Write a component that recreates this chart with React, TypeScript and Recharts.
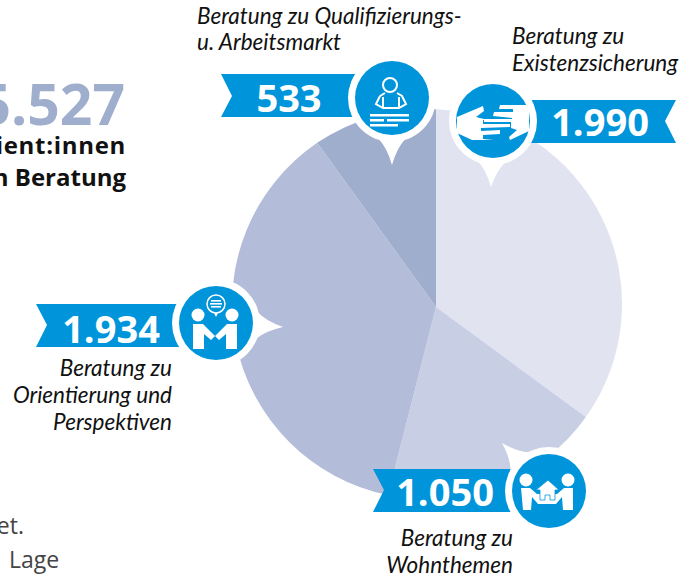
import React from 'react'
import { PieChart, Pie, Cell } from 'recharts'

const categories = ['Existenzsicherung', 'Wohnthemen', 'Orientierung und Perspektiven', 'Qualifizierungs- u. Arbeitsmarkt']
// printed numbers on the ribbons
const printedValues = ['1.990', '1.050', '1.934', '533']
// The wedges in the picture are not quite proportional to the printed numbers,
// so these are the sweeps (degrees) read off the picture itself
const wedgeSweeps = [126.3, 68, 129.8, 35.9]
const wedgeColors = ['#e1e3f1', '#c8cee4', '#b3bdda', '#a0aece']

const BLUE = '#0095db'
const FONT = '"Open Sans", "Noto Sans", sans-serif'
const LABEL_FONT = 'Lato, "Noto Sans", sans-serif'

const rows = categories.map((name, i) => ({ name, sweep: wedgeSweeps[i] }))

// the outline circle is centred a little off the point where the wedges meet
const RIM_DX = -9
const RIM_DY = -3

function rimPoint(cx: number, cy: number, r: number, angle: number) {
  const rad = (-angle * Math.PI) / 180
  const ux = Math.cos(rad)
  const uy = Math.sin(rad)
  // ray from the apex to the off-centre circle
  const b = -RIM_DX * ux - RIM_DY * uy
  const c = RIM_DX * RIM_DX + RIM_DY * RIM_DY - r * r
  const t = -b + Math.sqrt(b * b - c)
  return [cx + t * ux, cy + t * uy]
}

function OffsetWedge(props: any) {
  const { cx, cy, outerRadius, startAngle, endAngle, fill } = props
  const a = rimPoint(cx, cy, outerRadius, startAngle)
  const b = rimPoint(cx, cy, outerRadius, endAngle)
  const large = Math.abs(startAngle - endAngle) > 180 ? 1 : 0
  return (
    <path
      d={`M${cx},${cy} L${a[0]},${a[1]} A${outerRadius},${outerRadius} 0 ${large} 1 ${b[0]},${b[1]} Z`}
      fill={fill}
    />
  )
}

function Ribbon({ points, text, x, y }: { points: string; text: string; x: number; y: number }) {
  return (
    <g>
      <polygon points={points} fill={BLUE} />
      <text x={x} y={y} textAnchor="middle" fontFamily={FONT} fontWeight={700} fontSize={38} fill="#fff">
        {text}
      </text>
    </g>
  )
}

// white ring + concave pointer tip, blue disc on top
function Bubble({ cx, cy, tip, children }: { cx: number; cy: number; tip: [number, number]; children?: React.ReactNode }) {
  const ang = Math.atan2(tip[1] - cy, tip[0] - cx)
  const spread = 0.32
  const p1 = [cx + 43 * Math.cos(ang - spread), cy + 43 * Math.sin(ang - spread)]
  const p2 = [cx + 43 * Math.cos(ang + spread), cy + 43 * Math.sin(ang + spread)]
  const c1 = [cx + 50 * Math.cos(ang - 0.1), cy + 50 * Math.sin(ang - 0.1)]
  const c2 = [cx + 50 * Math.cos(ang + 0.1), cy + 50 * Math.sin(ang + 0.1)]
  return (
    <g>
      <path d={`M${p1[0]},${p1[1]} Q${c1[0]},${c1[1]} ${tip[0]},${tip[1]} Q${c2[0]},${c2[1]} ${p2[0]},${p2[1]} Z`} fill="#fff" />
      <circle cx={cx} cy={cy} r={44} fill="#fff" />
      <circle cx={cx} cy={cy} r={37} fill={BLUE} />
      {children}
    </g>
  )
}

function ReaderIcon() {
  return (
    <g>
      <circle cx={390} cy={85} r={7} fill="none" stroke="#fff" strokeWidth={2} />
      <path d="M380,96 L377,102 L376,104 L383,108 L399,108 L406,104 L405,102 L402,96 L397,93 M380,96 L385,93 M383,108 L383,97 M399,108 L399,97" fill="none" stroke="#fff" strokeWidth={2} />
      <rect x={370} y={114} width={39} height={2.5} fill="#fff" />
      <rect x={370} y={119} width={14} height={2.5} fill="#fff" />
      <rect x={387} y={119} width={22} height={2.5} fill="#fff" />
      <rect x={370} y={124} width={28} height={2.5} fill="#fff" />
    </g>
  )
}

function HandsIcon() {
  return (
    <g fill="#fff">
      <path d="M457,117 L483,106 L484,111 L476,117 L488,120 L483,120 L483,124 L510,124 L510,127 L481,128 L481,131 L500,130 L500,134 L483,135 L483,139 L494,140 L472,140 L457,133 Z" />
      <path d="M529,105 L500,105 L499,109 L513,109 L513,112 L494,112 L493,116 L512,118 L512,119 L484,119 L484,122 L511,122 L511,128 L517,130 L509,137 L510,140 L529,131 Z" />
    </g>
  )
}

function TalkIcon() {
  return (
    <g>
      <circle cx={198} cy={315} r={6.5} fill="#fff" />
      <circle cx={232} cy={315} r={6.5} fill="#fff" />
      <path d="M193,324 L203,324 L215,336 L211,340 L204,334 L204,349 L193,349 Z" fill="#fff" />
      <path d="M237,324 L227,324 L215,336 L219,340 L226,334 L226,349 L237,349 Z" fill="#fff" />
      <circle cx={216} cy={304} r={9} fill="none" stroke="#fff" strokeWidth={1.5} />
      <path d="M214,313 L216,317 L218,313 Z" fill="#fff" />
      <rect x={211} y={300} width={10} height={1.6} fill="#fff" />
      <rect x={210} y={303} width={12} height={1.6} fill="#fff" />
      <rect x={211} y={306} width={10} height={1.6} fill="#fff" />
    </g>
  )
}

function HouseIcon() {
  return (
    <g>
      <circle cx={526} cy={480} r={6.5} fill="#fff" />
      <circle cx={568} cy={480} r={6.5} fill="#fff" />
      <path d="M521,488 L530,488 L537,494 L557,494 L564,488 L573,488 L573,510 L563,510 L562,497 L556,504 L538,504 L532,497 L531,510 L523,510 Z" fill="#fff" />
      <path d="M536,490 L548,480 L559,490 L555,490 L555,500 L550,500 L550,495 L545,495 L545,500 L540,500 L540,490 Z" fill="#fff" stroke={BLUE} strokeWidth={0.8} />
    </g>
  )
}

function Label({ x, y, anchor, lines }: { x: number; y: number[]; anchor: 'start' | 'end'; lines: string[] }) {
  return (
    <>
      {lines.map((l, i) => (
        <text key={l} x={x} y={y[i]} textAnchor={anchor} fontFamily={LABEL_FONT} fontStyle="italic" fontSize={22.5} fill="#111">
          {l}
        </text>
      ))}
    </>
  )
}

export default function App() {
  return (
    <div style={{ position: 'absolute', left: 0, top: 0, width: 692, height: 577, background: '#fff', overflow: 'hidden' }}>
      <PieChart width={692} height={577} margin={{ top: 0, right: 0, bottom: 0, left: 0 }}>
        <Pie
          data={rows}
          dataKey="sweep"
          cx={436}
          cy={307}
          outerRadius={195}
          startAngle={90}
          endAngle={-270}
          stroke="none"
          shape={OffsetWedge}
          isAnimationActive={false}
        >
          {rows.map((r, i) => (
            <Cell key={r.name} fill={wedgeColors[i]} />
          ))}
        </Pie>
      </PieChart>

      <svg width={692} height={577} style={{ position: 'absolute', left: 0, top: 0 }}>
        <text x={125} y={125} textAnchor="end" fontFamily={FONT} fontWeight={700} fontSize={57} fill="#a0aece">5.527</text>
        <text x={126} y={154} textAnchor="end" fontFamily={FONT} fontWeight={700} fontSize={24} letterSpacing={0.7} fill="#111">Klient:innen</text>
        <text x={126} y={186} textAnchor="end" fontFamily={FONT} fontWeight={700} fontSize={24} fill="#111">in Beratung</text>
        <text x={24} y={534} textAnchor="end" fontFamily={FONT} fontSize={23} fill="#444">et.</text>
        <text x={9} y={568} fontFamily={FONT} fontSize={23} fill="#444">Lage</text>

        <Ribbon points="221,74 360,74 360,117 221,117 232,96" text={printedValues[3]} x={289} y={112} />
        <Bubble cx={392} cy={98} tip={[392, 165]}><ReaderIcon /></Bubble>

        <Ribbon points="520,100 676,100 665,121 676,143 520,143" text={printedValues[0]} x={600} y={136} />
        <Bubble cx={493} cy={121} tip={[491, 187]}><HandsIcon /></Bubble>

        <Ribbon points="36,304 190,304 190,347 36,347 47,325" text={printedValues[2]} x={111} y={343} />
        <Bubble cx={216} cy={323} tip={[283, 327]}><TalkIcon /></Bubble>

        <Ribbon points="373,469 520,469 520,512 373,512 384,490" text={printedValues[1]} x={445} y={506} />
        <Bubble cx={549} cy={491} tip={[502, 443]}><HouseIcon /></Bubble>

        <Label x={197} y={[24, 50]} anchor="start" lines={['Beratung zu Qualifizierungs-', 'u. Arbeitsmarkt']} />
        <Label x={512} y={[44, 71]} anchor="start" lines={['Beratung zu', 'Existenzsicherung']} />
        <Label x={172} y={[376, 403, 430]} anchor="end" lines={['Beratung zu', 'Orientierung und', 'Perspektiven']} />
        <Label x={513} y={[546, 573]} anchor="end" lines={['Beratung zu', 'Wohnthemen']} />
      </svg>
    </div>
  )
}
